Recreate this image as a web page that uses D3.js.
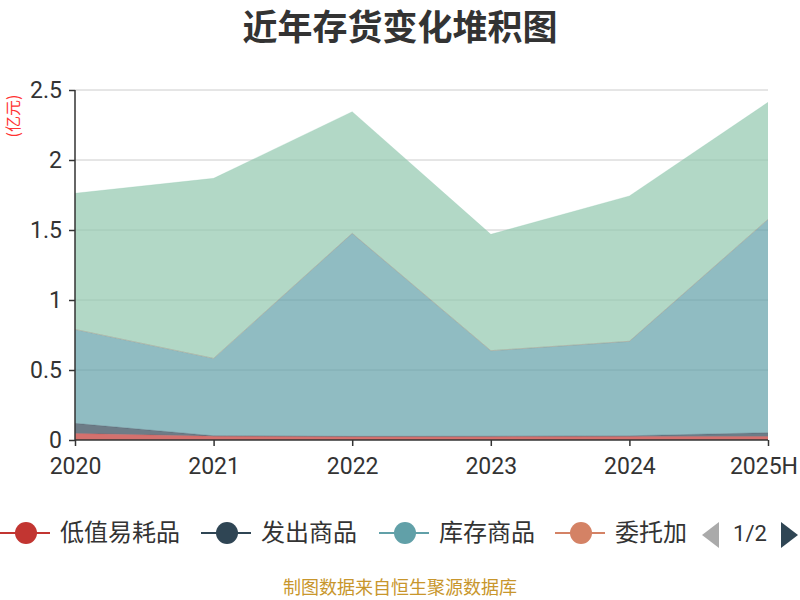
<!DOCTYPE html>
<html><head><meta charset="utf-8">
<script src="https://cdn.jsdelivr.net/npm/d3@7/dist/d3.min.js"></script>
<style>body{margin:0;background:#fff}svg{display:block}</style>
</head><body>
<svg id="c" width="800" height="600"></svg>
<script>
const categories = ["2020","2021","2022","2023","2024","2025H"];
const seriesNames = ["低值易耗品","发出商品","库存商品","委托加工物资","原材料"];
const seriesColors = ["#c23531","#2f4554","#61a0a8","#d48265","#91c7ae"];
const lowValue   = [0.047,0.027,0.024,0.024,0.025,0.025];
const shipped    = [0.072,0.003,0.002,0.003,0.005,0.027];
const stock      = [0.671,0.553,1.450,0.611,0.675,1.524];
const consigned  = [0,0,0,0,0,0];
const material   = [0.972,1.286,0.869,0.831,1.038,0.836];
const yTicks = [0,0.5,1,1.5,2,2.5];
const yTickLabels = ["0","0.5","1","1.5","2","2.5"];
const titleText = "近年存货变化堆积图";
const unitText = "(亿元)";
const sourceText = "制图数据来自恒生聚源数据库";

const values = [lowValue, shipped, stock, consigned, material];
const rows = categories.map((c,i)=>{const r={cat:c}; seriesNames.forEach((n,k)=>r[n]=values[k][i]); return r;});
const stacked = d3.stack().keys(seriesNames)(rows);

const svg = d3.select("#c");
const font = "'Noto Sans CJK SC','Noto Sans',sans-serif";
const numFont = "Roboto,'Noto Sans',sans-serif";
const L=75,R=768,T=90,B=440;
const x = d3.scalePoint().domain(categories).range([L,R]);
const y = d3.scaleLinear().domain([0,2.5]).range([B,T]);

svg.append("text").attr("x",400).attr("y",40).attr("text-anchor","middle")
  .attr("font-family",font).attr("font-size",35).attr("font-weight","bold").attr("fill","#333").text(titleText);

// grid
svg.append("g").selectAll("line").data(yTicks.filter(d=>d>0)).join("line")
  .attr("x1",L).attr("x2",R).attr("y1",d=>y(d)).attr("y2",d=>y(d))
  .attr("stroke","#ccc").attr("stroke-width",1);

// areas
const area = d3.area().x((d,i)=>x(categories[i])).y0(d=>y(d[0])).y1(d=>y(d[1]));
const line = d3.line().x((d,i)=>x(categories[i])).y(d=>y(d[1]));
svg.append("g").selectAll("path").data(stacked).join("path")
  .attr("d",area).attr("fill",(d,i)=>seriesColors[i]).attr("fill-opacity",0.7);
svg.append("g").selectAll("path").data(stacked).join("path")
  .attr("d",line).attr("fill","none").attr("stroke",(d,i)=>seriesColors[i]).attr("stroke-opacity",0.25).attr("stroke-width",1);

// y axis
const yAxis = d3.axisLeft(y).tickValues(yTicks).tickFormat((d,i)=>yTickLabels[i]).tickSize(6).tickPadding(7);
const gy = svg.append("g").attr("transform",`translate(${L},0)`).call(yAxis);
gy.select(".domain").attr("stroke","#333").attr("stroke-width",1.5).attr("d",`M0,${B}V${T}`);
gy.selectAll(".tick line").attr("stroke","#333").attr("stroke-width",1.5);
gy.selectAll(".tick text").attr("font-family",numFont).attr("font-size",23).attr("fill","#333");

// x axis
const xAxis = d3.axisBottom(x).tickSize(6).tickPadding(12);
const gx = svg.append("g").attr("transform",`translate(0,${B})`).call(xAxis);
gx.select(".domain").attr("stroke","#333").attr("stroke-width",1.5).attr("d",`M${L},0H${R}`);
gx.selectAll(".tick line").attr("stroke","#333").attr("stroke-width",1.5);
gx.selectAll(".tick text").attr("font-family",numFont).attr("font-size",23).attr("fill","#333")
  .each(function(){
    const b=this.getBBox(); const tr=this.parentNode.transform.baseVal.consolidate().matrix.e;
    const over = tr + b.x + b.width - 798;
    if(over>0) d3.select(this).attr("x",-over);
  });

// unit label
svg.append("text").attr("transform","translate(19,116) rotate(-90)").attr("text-anchor","middle")
  .attr("font-family",font).attr("font-size",16).attr("fill","#ff3333").text(unitText);

// legend
const legX = [0,201,379,555];
const legendLimit = 690;
const lg = svg.append("g");
const items = lg.append("g").selectAll("g").data(seriesNames.slice(0,4)).join("g")
  .attr("transform",(d,i)=>`translate(${legX[i]},533)`);
items.append("line").attr("x1",0).attr("x2",50).attr("y1",0).attr("y2",0)
  .attr("stroke",(d,i)=>seriesColors[i]).attr("stroke-width",2);
items.append("circle").attr("cx",26).attr("cy",0).attr("r",11).attr("fill",(d,i)=>seriesColors[i]);
items.append("text").attr("x",60).attr("y",0).attr("dy","0.35em")
  .attr("font-family",font).attr("font-size",24).attr("fill","#333")
  .each(function(d,i){
    const t=d3.select(this); let s=d; t.text(s);
    const avail = legendLimit - legX[i] - 60;
    while(s.length>1 && this.getComputedTextLength()>avail){ s=s.slice(0,-1); t.text(s); }
  });
// pager
lg.append("path").attr("d","M719,522L702,535L719,548Z").attr("fill","#aaa");
lg.append("text").attr("x",750).attr("y",533).attr("dy","0.35em").attr("text-anchor","middle")
  .attr("font-family",numFont).attr("font-size",22).attr("fill","#333").text("1/2");
lg.append("path").attr("d","M781,522L798,535L781,548Z").attr("fill","#2f4554");

svg.append("text").attr("x",400).attr("y",594).attr("text-anchor","middle")
  .attr("font-family",font).attr("font-size",18).attr("fill","#c8962c").text(sourceText);
</script>
</body></html>
